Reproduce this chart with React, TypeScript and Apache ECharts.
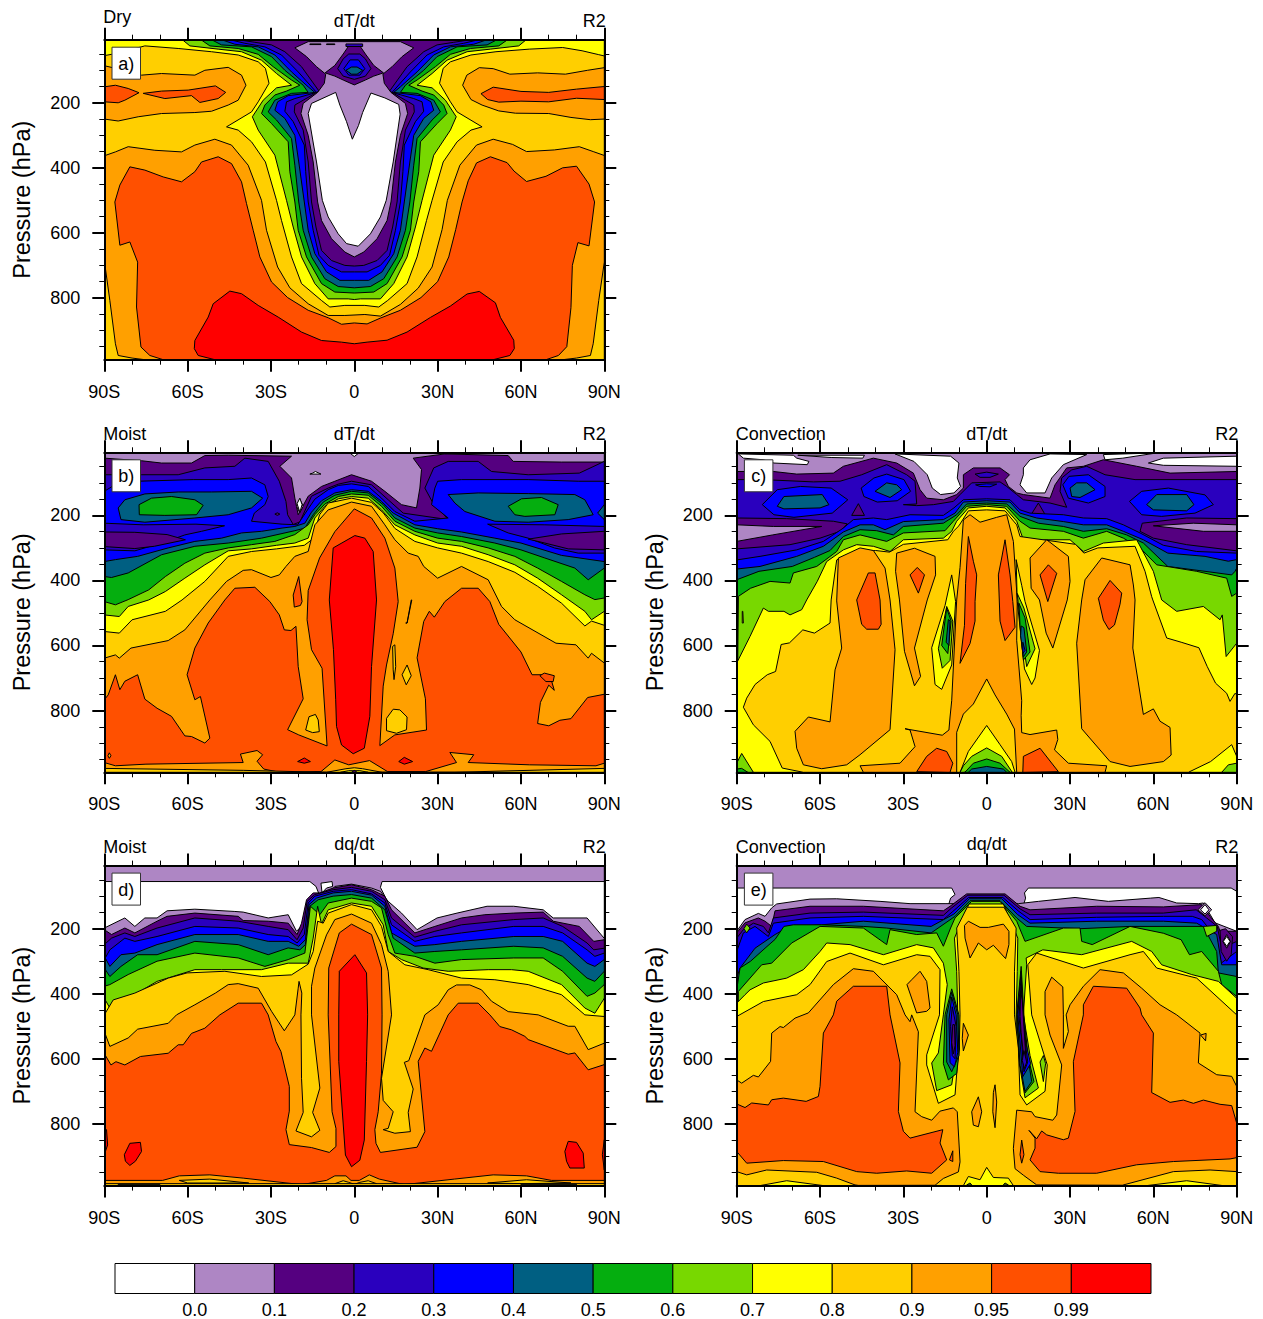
import React, { useEffect, useRef } from "react";
import * as echarts from "echarts";

// Shading levels, low to high
const levelColors = ["#ffffff", "#ae86c4", "#550080", "#2a00be", "#0000ff", "#005f82", "#05ae0f", "#78d800", "#ffff00", "#ffcf00", "#ffa000", "#ff5000", "#ff0000"];
const levelLabels = ["0.0", "0.1", "0.2", "0.3", "0.4", "0.5", "0.6", "0.7", "0.8", "0.9", "0.95", "0.99"];
const latLabels: Record<string, string> = { "-90": "90S", "-60": "60S", "-30": "30S", "0": "0", "30": "30N", "60": "60N", "90": "90N" };
const pressureMajor = [200, 400, 600, 800];
const pressureMinor = [50, 100, 150, 250, 300, 350, 450, 500, 550, 650, 700, 750, 850, 900, 950];
const pMin = 6;
const pMax = 990;

// Each contour: [level, [lat, hPa, lat, hPa, ...]], painted in order
type Contour = [number, number[]];

const panelA: Contour[] = [
  [9, [-90, 6, 90, 6, 90, 990, -90, 990]],
  [10, [-90, 86, -86, 94, -81.4, 115, -76.6, 115, -69.4, 110, -57.4, 115, -53.8, 100, -45.4, 91, -40.6, 115, -39, 146, -41.8, 192, -45.4, 207, -51.4, 226, -57.4, 230, -69.4, 233, -77.8, 243, -85, 256, -90, 250]],
  [10, [90, 92, 84, 100, 76, 112, 66, 108, 56, 112, 50, 95, 45, 92, 40.5, 115, 39, 146, 42, 190, 46, 207, 52, 225, 58, 232, 70, 233, 78, 245, 85, 252, 90, 250]],
  [11, [-90, 151, -86, 146, -81.4, 156, -77.5, 169, -82.6, 192, -85, 200, -90, 197]],
  [11, [-76, 171, -69.4, 164, -59.8, 161, -50, 148, -46.3, 168, -49, 187, -55.6, 199, -58.6, 178, -68.2, 187]],
  [11, [45.6, 172, 50, 152, 60, 165, 70, 168, 80, 158, 90, 150, 90, 190, 80, 186, 70, 197, 60, 195, 52, 198, 48, 190]],
  [10, [-90, 363, -86, 351, -81.4, 335, -71.8, 346, -62.2, 351, -57.4, 330, -50.2, 312, -44.2, 330, -38.2, 392, -33.4, 500, -31.6, 592, -27.6, 705, -23.2, 769, -16.6, 818, -9.4, 854, -3.4, 854, 3.8, 851, 9.4, 856, 16.6, 820, 23, 770, 28, 705, 31.6, 590, 33.5, 500, 38, 392, 44, 330, 50, 312, 57, 328, 62, 350, 72, 345, 81, 335, 86, 350, 90, 362, 90, 690, 88, 808, 86, 941, 85, 977, 80, 985, 75, 990, -75.4, 990, -80, 985, -85, 977, -86, 941, -88, 808, -90, 685]],
  [11, [-86.2, 505, -84.4, 453, -80.8, 397, -75.4, 407, -68.8, 428, -62.2, 443, -57.4, 412, -55, 382, -49, 366, -44.2, 387, -40.6, 443, -38.8, 510, -36.4, 592, -34, 674, -29.8, 751, -24, 799, -16.6, 838, -9.4, 861, -4.6, 881, 0, 877, 4.6, 880, 9.4, 862, 16.6, 838, 24, 799, 30, 750, 34, 674, 36.5, 590, 38.8, 505, 41, 440, 44, 385, 49, 366, 55, 384, 57.5, 410, 62, 442, 69, 426, 75, 400, 80, 395, 84.5, 450, 86.5, 505, 84.5, 640, 80.5, 630, 78.5, 700, 78, 830, 76.5, 950, 73.5, 977, 69, 990, -68.8, 990, -73.6, 977, -76.8, 951, -78.4, 828, -78, 690, -80.8, 628, -84.4, 638]],
  [12, [-50.2, 990, -56.2, 977, -57.6, 956, -57.4, 931, -52.6, 859, -50.8, 818, -44.8, 779, -40.6, 787, -34.6, 823, -27.4, 859, -19, 905, -11.8, 931, -4.6, 936, 0, 941, 4.6, 936, 11.8, 930, 19, 905, 27.4, 860, 34.6, 825, 40.6, 788, 45, 780, 50.8, 815, 52.6, 860, 57.4, 930, 57.6, 956, 56, 977, 50, 990]],
  [8, [-90, 55, -87.4, 51, -81, 38, -75.4, 25, -63.4, 33, -51.4, 43, -41.8, 53, -34.6, 74, -32, 94, -30.7, 140, -34.6, 197, -37, 228, -46, 274, -41.8, 284, -37, 320, -32, 382, -28, 500, -26.2, 562, -22.6, 674, -19, 756, -11.8, 808, -8.8, 828, -3.4, 823, 3.8, 823, 8.8, 828, 12, 808, 19, 756, 22.6, 674, 26, 562, 28, 500, 32, 382, 37, 320, 42, 284, 46, 274, 37, 228, 34.6, 197, 30.7, 140, 32, 94, 34.6, 74, 42, 53, 51, 43, 63, 35, 75, 30, 82, 40, 88, 52, 90, 56, 90, 6, -90, 6]],
  [7, [-61.9, 6, -59.2, 25, -49, 35, -40.6, 43, -33.4, 69, -28, 110, -22.6, 146, -28, 154, -32.8, 192, -36.7, 243, -34.6, 284, -28.6, 361, -24.4, 500, -22, 582, -19, 674, -14.2, 756, -9.4, 803, -2.2, 803, 0, 805, 2.2, 803, 9.4, 803, 14.2, 756, 19, 674, 22, 582, 24.4, 500, 28.6, 361, 34.6, 284, 36.7, 243, 32.8, 192, 28, 154, 22.6, 146, 28, 110, 33.4, 69, 40.6, 43, 49, 35, 59.2, 25, 61.9, 6]],
  [6, [-55.2, 6, -52, 25, -41.8, 33, -34.6, 51, -29.2, 89, -22.6, 130, -19.6, 146, -24.4, 164, -28.6, 176, -32.2, 207, -33.4, 233, -29.8, 264, -23.8, 320, -23.2, 412, -21.4, 505, -20.2, 592, -17.2, 674, -11.8, 756, -7, 782, 0, 785, 7, 782, 11.8, 756, 17.2, 674, 20.2, 592, 21.4, 505, 23.2, 412, 23.8, 320, 29.8, 264, 33.4, 233, 32.2, 207, 28.6, 176, 24.4, 164, 19.6, 146, 22.6, 130, 29.2, 89, 34.6, 51, 41.8, 33, 52, 25, 55.2, 6]],
  [5, [-51.4, 6, -47.8, 22, -37, 28, -29.8, 58, -25, 100, -18.4, 146, -16.6, 168, -22.6, 171, -28.6, 192, -31, 228, -28, 253, -22.6, 310, -21.4, 392, -20, 505, -18.4, 592, -15.4, 674, -10.6, 741, -5.8, 765, 0, 769, 5.8, 765, 10.6, 741, 15.4, 674, 18.4, 592, 20, 505, 21.4, 392, 22.6, 310, 28, 253, 31, 228, 28.6, 192, 22.6, 171, 16.6, 168, 18.4, 146, 25, 100, 29.8, 58, 37, 28, 47.8, 22, 51.4, 6]],
  [4, [-47.8, 6, -43, 20, -34.6, 28, -28.6, 53, -22.6, 105, -16.6, 151, -14.2, 168, -23.8, 178, -27.6, 197, -28.6, 223, -25, 248, -21.4, 300, -20, 382, -18, 505, -16.6, 592, -14.2, 664, -10, 720, -5.2, 746, 0, 746, 5.2, 746, 10, 720, 14.2, 664, 16.6, 592, 18, 505, 20, 382, 21.4, 300, 25, 248, 28.6, 223, 27.6, 197, 23.8, 178, 14.2, 168, 16.6, 151, 22.6, 105, 28.6, 53, 34.6, 28, 43, 20, 47.8, 6]],
  [3, [-44.8, 6, -39.4, 17, -32.2, 28, -26.2, 53, -20.2, 105, -13.6, 168, -21.4, 187, -24.4, 197, -25, 226, -22, 258, -18, 330, -17.5, 412, -16.6, 505, -14.8, 592, -12.7, 669, -9.4, 700, -4.6, 720, 0, 720, 4.6, 720, 9.4, 700, 12.7, 669, 14.8, 592, 16.6, 505, 17.5, 412, 18, 330, 22, 258, 25, 226, 24.4, 197, 21.4, 187, 13.6, 168, 20.2, 105, 26.2, 53, 32.2, 28, 39.4, 17, 44.8, 6]],
  [2, [-41.8, 6, -35.8, 14, -29.8, 22, -25, 43, -19, 89, -12.7, 164, -18.4, 192, -21.4, 207, -21.6, 228, -18.4, 284, -16.6, 382, -15.4, 505, -13.8, 582, -11.8, 654, -8.2, 685, -3.4, 700, 0, 702, 3.4, 700, 8.2, 685, 11.8, 654, 13.8, 582, 15.4, 505, 16.6, 382, 18.4, 284, 21.6, 228, 21.4, 207, 18.4, 192, 12.7, 164, 19, 89, 25, 43, 29.8, 22, 35.8, 14, 41.8, 6]],
  [1, [-21.4, 31, -16.6, 12, 16.6, 12, 21.4, 31, 17.2, 58, 13.6, 89, 10.3, 112, 10.8, 140, 13.2, 168, 18.4, 202, 19.2, 233, 16.6, 300, 14.8, 382, 13.2, 505, 11.8, 562, 8.2, 618, 3.4, 659, 0, 674, -3.4, 659, -8.2, 618, -11.8, 562, -13.2, 505, -14.8, 382, -16.6, 300, -19.2, 233, -18.4, 202, -13.2, 168, -10.8, 140, -10.3, 112, -13.6, 89, -17.2, 58]],
  [2, [-16, 19, -12, 19, -12, 21, -16, 21]],
  [2, [-10, 19, -7, 19, -7, 21, -10, 21]],
  [2, [-10.5, 108, -7, 85, -4, 50, -2, 25, 2, 25, 4, 50, 7, 85, 10.5, 108, 7, 118, 4, 130, 0, 145, -4, 130, -7, 118]],
  [3, [-6, 95, -4, 65, -2, 50, 2, 50, 4, 65, 6, 95, 4, 118, 0, 128, -4, 118]],
  [3, [-3, 19, 3, 19, 3, 27, -3, 27]],
  [4, [-3.8, 95, -1.5, 68, 1.5, 68, 3.8, 95, 2, 115, -2, 115]],
  [5, [-3, 100, -1, 90, 1, 90, 3, 100, 1, 112, -1, 112]],
  [0, [-16.6, 233, -15.4, 202, -6.7, 168, -5.2, 207, -2.8, 258, -0.7, 312, 1.5, 270, 3, 230, 6, 170, 11, 185, 16, 205, 16.5, 235, 14, 382, 11.5, 500, 9.4, 551, 5.8, 603, 1.4, 641, -2.8, 633, -5.8, 603, -9.4, 551, -11.5, 500, -13.6, 382]],
];

const panelB: Contour[] = [
  [1, [-90, 6, 90, 6, 90, 990, -90, 990]],
  [2, [-90, 24, -76.6, 32, -69.4, 39, -58.6, 39, -53.8, 16, -45.4, 15, -22.6, 18, -26.8, 49, -22.6, 85, -21.4, 147, -20.2, 198, -16.6, 141, -11.8, 111, -7, 95, -1, 75, 6.2, 95, 11, 126, 17, 167, 22.4, 177, 23.6, 116, 24.2, 59, 21.2, 24, 32.6, 11, 55.4, 16, 57.2, 34, 74.6, 36, 90, 36, 90, 990, -90, 990]],
  [3, [-90, 75, -76.6, 75, -63.4, 75, -53.8, 54, -43, 49, -39.4, 24, -31, 34, -27, 95, -24.6, 157, -24, 198, -22, 228, -19.6, 220, -15.4, 141, -9.4, 116, -5.8, 104, -1, 95, 6.2, 106, 12.2, 152, 17.6, 193, 33.8, 213, 28, 157, 25.4, 116, 28.6, 54, 33.8, 34, 44.6, 34, 49.4, 65, 62.6, 75, 81, 70, 90, 34, 90, 990, -90, 990]],
  [2, [-28.6, 196, -27.7, 192, -26.8, 196, -27.7, 200]],
  [4, [-90, 126, -86, 105, -78, 95, -58, 90, -45.4, 90, -37, 85, -32.2, 106, -31, 142, -32.2, 167, -36, 193, -37, 218, -26, 227, -20.4, 229, -16.6, 180, -14.2, 150, -9.4, 121, -5.8, 108, -1, 103, 5, 111, 9.8, 147, 14.6, 188, 21.8, 218, 33.8, 208, 27.8, 167, 29, 116, 30, 95, 38.6, 90, 62.6, 90, 80.6, 95, 90, 95, 90, 990, -90, 990]],
  [3, [-90, 224, -76, 229, -57, 227, -46.7, 232, -55, 249, -61, 260, -67.4, 280, -79, 309, -90, 306]],
  [2, [-90, 251, -79, 252, -67.4, 259, -60.8, 275, -72, 295, -79, 302, -90, 296]],
  [3, [48, 227, 68.6, 229, 90, 234, 90, 316, 80.6, 316, 72, 300, 62.6, 270, 55.4, 254]],
  [2, [62.6, 273, 74.6, 257, 90, 249, 90, 306, 77, 303, 68.6, 285]],
  [5, [-85, 177, -82.6, 152, -75.4, 134, -63.4, 128, -51.4, 128, -37, 126, -33, 147, -37, 177, -45.4, 198, -57.4, 208, -75.4, 221, -84, 213]],
  [6, [-77.5, 167, -73, 147, -65.8, 142, -57.4, 152, -54.4, 169, -56.8, 198, -68.2, 200, -77.4, 198]],
  [5, [33.8, 136, 44.6, 131, 62.6, 133, 79.4, 136, 83, 152, 86, 198, 77, 213, 62.6, 221, 50.6, 218, 39.8, 188, 36.2, 162]],
  [6, [55.4, 172, 60.2, 149, 67.4, 145, 73.4, 167, 72.2, 198, 61.4, 203, 57.8, 198]],
  [5, [90, 167, 87.6, 193, 90, 213]],
  [1, [-20.8, 172, -19.6, 150, -18.4, 172, -19.6, 192]],
  [0, [-20.6, 164, -19.6, 147, -18.8, 167, -19.6, 190]],
  [0, [-15, 70, -14, 65, -12, 73, -16, 73]],
  [0, [-1.5, 9, 1.5, 9, 0, 19]],
  [5, [-90, 342, -86, 336, -78, 326, -67, 300, -57.4, 280, -47.8, 270, -40.6, 254, -33.4, 249, -26, 239, -21.4, 234, -17.8, 224, -15.4, 190, -11.8, 155, -7, 131, -1, 121, 5, 126, 9.8, 157, 14, 193, 21.8, 229, 30, 241, 38.6, 251, 50.6, 270, 60, 285, 74.6, 323, 90, 342, 90, 990, -90, 990]],
  [6, [-90, 388, -87.4, 391, -81.4, 377, -69.4, 321, -57.4, 295, -45.4, 285, -33.4, 270, -21.4, 247, -17.8, 239, -14.8, 198, -11.2, 159, -7, 138, -1, 126, 5, 131, 10.4, 167, 14.6, 208, 21.8, 239, 30, 254, 38.6, 265, 50.6, 285, 60, 306, 68.6, 331, 79.4, 362, 84.2, 398, 90, 362, 90, 990, -90, 990]],
  [7, [-90, 465, -86, 475, -81.4, 459, -74, 429, -68, 388, -61, 347, -53.8, 316, -45.4, 300, -37, 290, -28.6, 280, -21.4, 259, -16.6, 229, -14.2, 198, -10.6, 165, -5.8, 142, -1, 134, 5, 138, 9.8, 172, 14.6, 218, 21.8, 249, 30, 270, 38.6, 280, 48.2, 300, 57.8, 326, 66, 362, 74.6, 403, 83, 444, 86.6, 459, 90, 454, 90, 990, -90, 990]],
  [8, [-90, 506, -84.6, 511, -81.4, 480, -74, 460, -68, 434, -61, 393, -53.8, 352, -45.4, 309, -37, 303, -28, 292, -21.4, 285, -16.6, 270, -14.2, 208, -10.6, 172, -5.8, 149, -1, 142, 5, 147, 9.8, 183, 14.6, 229, 21.8, 260, 30, 285, 38.6, 295, 48.2, 321, 57.8, 352, 66, 393, 74.6, 444, 83, 495, 85.4, 521, 90, 495, 90, 990, -90, 990]],
  [9, [-90, 557, -84.6, 562, -80, 521, -68, 495, -62, 460, -53.8, 403, -45.4, 326, -37, 311, -28, 303, -18, 292, -15, 273, -12.5, 198, -9.4, 162, -1, 147, 6.2, 160, 10.4, 192, 14.6, 240, 21.8, 280, 30, 300, 38.6, 316, 48.2, 342, 57.8, 375, 66, 418, 74.6, 470, 83, 540, 85.4, 525, 90, 538, 90, 990, -90, 990]],
  [10, [-90, 639, -86, 629, -84.6, 639, -80.4, 608, -67, 585, -61, 552, -52, 460, -46, 403, -40, 369, -37, 367, -30, 391, -27, 383, -24.6, 357, -21.4, 326, -16.6, 311, -14.2, 229, -9.4, 183, -1, 159, 6.2, 172, 11, 229, 14.6, 275, 19.4, 316, 23, 326, 25, 357, 30, 393, 38.6, 357, 48.2, 398, 53, 480, 57.8, 521, 72.6, 593, 79.8, 598, 84.2, 639, 85.4, 624, 90, 654, 90, 990, -90, 990]],
  [11, [-90, 767, -88.6, 752, -86, 690, -84.4, 736, -82.6, 710, -78, 690, -75.4, 765, -71, 793, -65.8, 818, -61, 878, -58.6, 880, -53.8, 900, -52, 885, -55.4, 757, -57.4, 767, -60.2, 690, -57.4, 608, -52.6, 531, -46.6, 460, -43, 424, -35.8, 421, -30.4, 465, -27, 506, -25.2, 552, -22.8, 554, -21, 541, -20.2, 665, -18.4, 764, -24, 859, -20, 875, -9.8, 909, -11.6, 670, -15.4, 613, -17, 521, -16.6, 431, -12.5, 331, -7, 250, 0, 180, 6.2, 208, 11, 270, 14.6, 362, 15.8, 465, 14, 564, 11.6, 660, 10.4, 725, 9.2, 908, 14.6, 875, 26, 860, 25.6, 764, 22.6, 638, 25, 526, 27, 495, 28.8, 513, 32.6, 465, 38.6, 424, 44.6, 424, 48.8, 465, 52, 535, 60, 620, 64, 690, 68.6, 690, 70.6, 697, 72, 738, 70, 722, 67, 775, 66, 840, 70, 847, 74, 830, 78, 825, 84, 760, 90, 750, 90, 770, 90, 990, -90, 990]],
  [10, [-90, 960, -86, 970, -75, 965, -40, 960, -41, 934, -35, 923, -33, 936, -35, 956, -32.6, 980, -28, 988, -12, 988, -7, 952, -2, 967, 5.5, 954, 12, 988, 25.6, 988, 36.8, 960, 34.4, 929, 43, 936, 41, 960, 63, 967, 87, 970, 90, 962, 90, 990, -90, 990]],
  [9, [-90, 978, -40, 984, -10, 990, -3, 979, 0, 976, 3, 979, 10, 990, 36, 990, 90, 978, 90, 990, -90, 990]],
  [8, [-5, 990, -2, 985, 2, 985, 5, 990]],
  [2, [-1, 990, 0, 984, 1, 990]],
  [12, [-7.6, 300, -9, 460, -7.5, 613, -6.7, 767, -6.4, 849, -4.6, 906, -0.4, 933, 3.6, 916, 5.6, 818, 6.2, 665, 8, 460, 6.8, 311, 3.8, 270, 0.2, 262]],
  [11, [-20, 388, -18.8, 465, -19.4, 477, -21.6, 482, -22, 445]],
  [9, [-17.5, 860, -16.3, 819, -14, 812, -13, 829, -12.6, 865, -15, 868]],
  [9, [11.6, 824, 14, 796, 16.4, 798, 19, 820, 18.8, 859, 15.2, 870, 11.6, 862]],
  [9, [13.8, 603, 14.6, 598, 14.9, 665, 14.3, 705, 14, 675]],
  [9, [19, 660, 20.5, 693, 18.7, 721, 17.2, 690]],
  [9, [18.5, 531, 19, 531, 20.5, 460, 20.7, 460, 19, 531]],
  [11, [66.8, 693, 68.4, 685, 72, 693, 71.6, 711, 69, 711]],
  [12, [-20.4, 957, -18, 946, -15.8, 957, -18, 962]],
  [12, [16, 957, 18, 944, 21, 957, 18, 965]],
  [10, [-88.2, 930, -87.6, 939, -88.2, 947, -88.7, 939]],
];

const panelC: Contour[] = [
  [1, [-90, 6, 90, 6, 90, 990, -90, 990]],
  [0, [-89.4, 11, -69.6, 15, -68.4, 24, -64, 34, -64.6, 44, -76.6, 39, -80.4, 29, -87.6, 24]],
  [0, [-68, 15, -44, 15, -44.6, 24, -56, 22]],
  [0, [-33, 11, -13, 18, -10, 39, -10.6, 85, -9.4, 111, -11.8, 131, -16.6, 136, -19.6, 116, -21.4, 75, -26.2, 34]],
  [0, [13.2, 54, 15.6, 29, 22.8, 11, 36, 13, 27.6, 44, 23.4, 85, 21, 131, 14.4, 131, 12, 106, 13.2, 75]],
  [0, [42, 13, 61.2, 8, 49, 24, 42.6, 29]],
  [0, [58.2, 39, 63.6, 24, 90, 18, 90, 49, 63.6, 46]],
  [2, [-90, 65, -76.8, 65, -68.4, 73, -55.2, 70, -51.6, 49, -40.8, 24, -32.4, 39, -26.4, 70, -24, 121, -21.6, 147, -15.6, 152, -10.8, 136, -8.4, 116, -8.4, 75, -4.8, 54, 4.8, 54, 8.2, 75, 6.6, 90, 7.8, 111, 10.8, 131, 13.2, 136, 22.8, 147, 24.6, 106, 28.8, 54, 34.8, 49, 42, 29, 54, 49, 66, 70, 90, 65, 90, 990, -90, 990]],
  [3, [-90, 90, -80.4, 90, -62.4, 97, -52.8, 95, -45, 75, -36, 44, -28.8, 75, -25.8, 95, -25.2, 165, -30, 167, -25.2, 170, -19.2, 167, -12, 157, -9.6, 136, -5.4, 100, 4.8, 97, 7.2, 111, 10.8, 136, 13.2, 152, 22.8, 162, 28.8, 175, 26.4, 126, 27, 85, 30.6, 60, 36, 49, 42.6, 75, 53.4, 90, 90, 90, 90, 990, -90, 990]],
  [3, [-4.2, 73, 0, 67, 4.2, 73, 1.2, 83, -2.4, 83]],
  [4, [-4, 106, 0, 103, 3.6, 104, 1.2, 112, -2.4, 111]],
  [4, [-80.8, 167, -75.4, 121, -67, 111, -56, 116, -50, 152, -55.6, 193, -69.4, 206, -76.6, 198]],
  [4, [-45.2, 116, -40.6, 85, -36, 73, -29.8, 90, -27.4, 126, -32.2, 155, -39.4, 159, -44.2, 142]],
  [4, [27.4, 106, 29.6, 80, 36.6, 75, 42.6, 111, 42.6, 142, 36.6, 162, 29.4, 147]],
  [4, [51.4, 157, 55.8, 126, 65.4, 116, 78.6, 137, 81.6, 167, 75, 193, 63, 203, 55.8, 198]],
  [5, [-75.4, 172, -73, 142, -59.2, 136, -56.8, 167, -60, 177, -73, 180]],
  [5, [-40.2, 126, -36, 100, -32.4, 106, -30.6, 121, -34.8, 145]],
  [5, [30, 116, 32.4, 100, 36, 100, 39, 121, 33.6, 145, 30.6, 142]],
  [5, [57.6, 167, 61.2, 136, 72, 136, 74.6, 167, 72, 186, 60, 183]],
  [2, [-48.6, 200, -46.2, 164, -44, 200]],
  [2, [15.6, 203, 18.6, 162, 21.4, 203]],
  [2, [-90, 208, -72, 210, -55.2, 218, -50.2, 226, -52.8, 249, -60, 270, -70.8, 290, -90, 303]],
  [2, [56, 224, 72, 208, 90, 210, 90, 309, 72, 290, 60, 270, 55.2, 249]],
  [1, [-90, 229, -76.8, 234, -59.4, 234, -77, 260, -90, 280]],
  [1, [60, 232, 74.4, 224, 90, 229, 90, 249, 78, 249]],
  [4, [-90, 337, -81.6, 326, -68.4, 306, -58.8, 280, -51.6, 239, -48, 213, -40.8, 208, -36, 213, -27.6, 198, -15.6, 200, -11.8, 177, -8.4, 152, 0, 149, 8.4, 152, 12, 183, 15.6, 193, 27.6, 198, 34.8, 208, 43.2, 210, 49.2, 229, 55.2, 254, 63.6, 292, 75.6, 311, 90, 316, 90, 990, -90, 990]],
  [5, [-90, 365, -81.6, 357, -68.4, 326, -58.8, 295, -51.6, 251, -45.6, 229, -40.8, 229, -36.6, 244, -30, 219, -15.6, 213, -11.4, 193, -8.4, 159, 0, 155, 8.4, 159, 12, 193, 18, 208, 27.6, 219, 34.8, 229, 43.2, 229, 49.2, 249, 56.4, 275, 65.2, 316, 78.6, 326, 87, 341, 90, 336, 90, 990, -90, 990]],
  [6, [-90, 398, -82, 372, -70, 357, -62, 329, -56.4, 308, -51.6, 265, -45.6, 244, -39.6, 247, -33.6, 260, -30, 234, -15.6, 224, -10.8, 198, -7.2, 165, 0, 162, 7.2, 165, 12, 203, 18.6, 224, 27.6, 234, 34.8, 249, 43.2, 241, 50.4, 260, 56.4, 285, 65.2, 357, 78.6, 372, 88.2, 383, 89.4, 372, 90, 362, 90, 990, -90, 990]],
  [7, [-89.4, 449, -85, 424, -78, 403, -70.8, 408, -69.6, 377, -61.2, 357, -54, 311, -51.6, 275, -45.6, 260, -36, 280, -30, 254, -15, 247, -12, 218, -7.2, 172, 0, 167, 7.2, 172, 12, 218, 15.6, 239, 27.6, 249, 34.8, 270, 43.2, 249, 49.2, 270, 55.2, 300, 61.2, 352, 75.6, 372, 86.4, 393, 88.2, 449, 90, 439, 90, 990, -90, 990]],
  [8, [-90, 654, -85.2, 572, -80.4, 485, -78.6, 495, -73, 495, -70.8, 506, -66.6, 490, -64.8, 460, -61, 403, -57.6, 342, -51.6, 306, -46.8, 290, -40.8, 295, -34.8, 311, -30, 275, -15.6, 270, -12.6, 249, -10.8, 218, -6.6, 177, 0, 172, 6.6, 177, 10.8, 218, 13.2, 275, 30, 275, 34.8, 311, 42, 285, 54, 275, 60, 372, 63, 460, 68.4, 495, 78, 480, 84, 521, 84.8, 506, 86.2, 634, 90, 593, 90, 990, -90, 990]],
  [8, [-88, 495, -87.8, 495, -87.6, 531, -88, 531]],
  [9, [-66, 990, -73.6, 977, -78, 895, -84, 844, -87.6, 790, -86.4, 762, -83.4, 720, -79, 690, -76, 680, -74, 597, -71, 592, -66.2, 552, -62, 562, -56.4, 531, -56, 460, -54, 337, -47, 311, -40, 308, -35, 313, -30, 289, -14, 275, -12, 249, -10, 232, -6.6, 186, 0, 183, 6.6, 186, 10.8, 229, 12, 265, 32, 289, 35, 316, 40, 300, 53.4, 295, 57, 372, 59.4, 450, 59.8, 460, 64.8, 577, 70, 590, 76.4, 607, 79.4, 665, 82.4, 716, 86.4, 747, 87.6, 772, 89.4, 747, 90, 752, 90, 941, 88.2, 905, 80.6, 957, 72.6, 990]],
  [7, [-90, 962, -88.2, 932, -84, 990, -90, 990]],
  [6, [-90, 980, -88.2, 978, -86, 990, -90, 990]],
  [7, [87, 967, 90, 962, 90, 990, 84.6, 990]],
  [10, [-54, 463, -53.4, 331, -45.6, 300, -40.8, 308, -36.6, 362, -34.8, 460, -33, 613, -34.8, 859, -45.6, 936, -50.4, 967, -59.4, 979, -66, 967, -68.4, 916, -69, 864, -64.2, 820, -56.4, 835, -54.6, 675, -52.2, 608]],
  [11, [-46.8, 460, -42.6, 377, -40.2, 377, -38.4, 460, -38, 535, -39, 550, -43.2, 550, -45, 535]],
  [10, [-32.4, 316, -26, 301, -18.6, 326, -18.4, 383, -21.4, 460, -26, 608, -23.8, 695, -26, 724, -29.6, 618, -31.4, 460, -32.8, 372]],
  [11, [-27.6, 383, -25, 360, -22.4, 383, -24.6, 439]],
  [10, [15.6, 331, 21.6, 275, 29.4, 326, 30, 403, 29, 460, 23.8, 608, 21.4, 562, 19, 460, 16, 424]],
  [11, [19.2, 383, 22.2, 352, 25.2, 378, 22, 465]],
  [10, [35.4, 398, 41.4, 331, 51.6, 352, 52.8, 414, 53.4, 460, 52.6, 608, 56.4, 812, 60, 795, 62.4, 833, 66, 852, 66.4, 937, 63.6, 957, 51.6, 972, 44.4, 957, 34.2, 856, 32.4, 593, 34.2, 460]],
  [11, [40.2, 455, 44.4, 400, 48.6, 439, 48, 473, 46, 537, 44, 551, 42, 522]],
  [10, [-8.4, 214, -6, 198, -2.4, 221, 3.6, 206, 7.2, 198, 9.6, 280, 11, 460, 10.8, 584, 12.6, 770, 12.4, 816, 12.6, 868, 15.6, 874, 25.2, 860, 25.6, 889, 24.4, 921, 29.4, 962, 43.2, 970, 42.6, 990, -44.4, 990, -45.6, 970, -31.2, 962, -25.8, 911, -27.6, 860, -29.4, 856, -16, 876, -13.6, 860, -13.2, 820, -12.6, 770, -10.8, 460, -9.6, 360]],
  [9, [-10.8, 990, -10.8, 867, -8.4, 811, -4.8, 780, 0, 703, 3, 752, 7.2, 811, 10, 857, 10.8, 990]],
  [8, [-9.6, 990, -6.6, 926, 0, 846, 4.8, 905, 9, 957, 10.2, 990]],
  [7, [-8.4, 970, -5.4, 941, 0, 915, 5.4, 941, 9.2, 990, -9.6, 990]],
  [6, [-7.4, 986, -4.8, 962, 0, 949, 4.8, 962, 8.4, 990, -8, 990]],
  [5, [-6.6, 990, -5.4, 980, 0, 972, 6, 980, 7.2, 990]],
  [11, [-25.2, 988, -21.6, 941, -18, 916, -14.4, 926, -12.2, 962, -13.2, 990]],
  [11, [13, 990, 13.2, 941, 19.2, 916, 25.8, 988]],
  [11, [-6.6, 265, -4.8, 341, -3.6, 383, -4.2, 465, -4.2, 525, -6, 594, -9.6, 655, -8, 538, -7.6, 410]],
  [11, [6.6, 275, 5.4, 331, 4.2, 383, 4.8, 525, 6.6, 585, 10.2, 544, 9.4, 465, 8.4, 383]],
  [8, [-12.6, 383, -15, 477, -19.8, 607, -18.6, 720, -16.2, 735, -12.6, 660, -11.2, 465]],
  [7, [-14.4, 480, -17.4, 610, -16, 670, -13.2, 646, -12.2, 525]],
  [6, [-14.4, 485, -16.2, 600, -14, 625, -12.8, 525]],
  [5, [-13.8, 520, -14.6, 590, -13.6, 600, -13.2, 525]],
  [8, [10.6, 336, 12.6, 415, 13.8, 465, 19, 615, 17.4, 700, 16.2, 720, 13.6, 672, 11, 465]],
  [7, [11, 440, 13.4, 485, 17.4, 610, 14.4, 665, 12, 525]],
  [6, [11.6, 470, 13.8, 515, 15.6, 620, 13.2, 645, 12, 540]],
  [5, [12.4, 540, 13.4, 545, 14.4, 620, 13.2, 635, 12.2, 570]],
  [4, [13, 590, 13.8, 615, 13, 625]],
];

const panelD: Contour[] = [
  [0, [-90, 6, 90, 6, 90, 990, -90, 990]],
  [1, [-90, 6, 90, 6, 90, 55, 10, 55, 9.4, 73, 11, 100, 11, 160, -14, 160, -12.4, 100, -13.8, 70, -16, 55, -90, 55]],
  [0, [-12, 60, -8, 55, -7.8, 70, -10, 75, -11.6, 90]],
  [1, [-90, 198, -82.6, 167, -79, 193, -75.4, 167, -71, 167, -67.4, 145, -57.4, 140, -43, 147, -40, 149, -31, 167, -23.8, 157, -20.8, 208, -17.6, 180, -15, 150, -12.4, 100, -10, 100, -7, 70, -1, 63, 6.2, 75, 9.4, 85, 12.2, 116, 17, 152, 22.6, 203, 29.8, 167, 37, 152, 47.8, 131, 57.4, 131, 68, 142, 71.6, 167, 83.8, 167, 90, 230, 90, 990, -90, 990]],
  [2, [-90, 203, -87.4, 218, -82.6, 198, -79, 213, -71, 177, -67.4, 162, -57.4, 152, -41.8, 162, -40, 175, -31, 177, -23.8, 183, -20.6, 218, -19, 183, -17.2, 111, -14.8, 90, -12.4, 90, -7.6, 75, -1, 65, 6.2, 80, 11, 100, 13.4, 142, 21.8, 213, 29, 193, 38.6, 167, 47, 157, 57.4, 152, 68, 149, 71.6, 177, 81, 193, 86.2, 239, 90, 234, 90, 990, -90, 990]],
  [3, [-90, 249, -87.4, 229, -82.6, 213, -79, 224, -71, 198, -57.4, 167, -41.8, 177, -31, 193, -23.8, 203, -20.6, 234, -18.4, 198, -17, 116, -14.2, 95, -7.6, 80, -1, 73, 6.2, 85, 11, 111, 13.4, 167, 21.8, 226, 29, 208, 38.6, 188, 57.4, 172, 68, 167, 75, 193, 83.8, 244, 86.2, 265, 90, 260, 90, 990, -90, 990]],
  [4, [-90, 295, -88, 265, -82.6, 229, -79, 239, -71, 224, -57.4, 193, -41.8, 198, -31, 218, -23.8, 224, -20.6, 244, -18, 218, -16.6, 121, -14.2, 100, -7.6, 85, -1, 80, 6.2, 93, 11, 121, 13.4, 188, 21.8, 239, 29, 224, 38.6, 213, 57.4, 193, 68, 193, 75, 213, 83.8, 265, 86.6, 285, 90, 275, 90, 990, -90, 990]],
  [5, [-90, 285, -88, 316, -84, 280, -79, 275, -71, 249, -57.4, 218, -41.8, 218, -31, 239, -23.8, 239, -20, 254, -17.6, 234, -16.3, 126, -13.6, 106, -7.6, 90, -1, 85, 6.2, 97, 11, 131, 13.4, 213, 21.8, 254, 29, 249, 38.6, 239, 57.4, 224, 68, 224, 75, 239, 83.8, 306, 86.6, 316, 90, 295, 90, 990, -90, 990]],
  [6, [-90, 321, -88, 347, -84, 316, -78, 280, -71, 280, -57.4, 239, -41.8, 249, -31, 280, -23.8, 259, -19.6, 265, -17.6, 249, -16, 131, -13, 111, -7.6, 100, -1, 95, 6.2, 106, 11, 142, 14, 229, 21.8, 275, 29, 270, 38.6, 265, 57.4, 254, 68, 259, 75, 285, 83.8, 352, 86.6, 362, 90, 331, 90, 990, -90, 990]],
  [7, [-90, 377, -88, 372, -81.4, 341, -71, 300, -57.4, 275, -41.8, 290, -32.2, 316, -23.8, 295, -17.8, 275, -15.8, 131, -12.4, 157, -9.4, 121, -1, 106, 6.2, 116, 9.8, 136, 12.2, 218, 14.6, 275, 21.8, 285, 29, 306, 38.6, 295, 57.4, 290, 68, 290, 75, 331, 83.8, 408, 86.6, 398, 90, 372, 90, 990, -90, 990]],
  [8, [-90, 414, -88, 444, -81.4, 414, -71, 362, -57.4, 326, -47.8, 326, -33.4, 326, -23.8, 306, -16.6, 306, -14.8, 229, -13.2, 131, -11.8, 186, -9.4, 142, -1, 121, 6.2, 131, 10.4, 188, 12.2, 270, 17, 295, 24.8, 321, 33.8, 331, 48.2, 326, 56.6, 326, 62.6, 331, 74.6, 372, 83, 444, 86.6, 460, 90, 414, 90, 990, -90, 990]],
  [9, [-90, 465, -86.8, 419, -79, 398, -67, 352, -60.2, 336, -46.6, 331, -33.4, 347, -22.6, 342, -16.6, 309, -14.8, 270, -13.2, 177, -11.2, 183, -9.4, 152, -1, 126, 6.2, 142, 9.8, 193, 12.2, 270, 18.2, 311, 26.6, 326, 38.6, 352, 50.6, 357, 62.6, 372, 74.6, 403, 83, 465, 90, 470, 90, 990, -90, 990]],
  [10, [-90, 516, -88, 562, -81.4, 536, -78, 509, -67, 491, -64, 465, -57.4, 434, -50, 398, -45.4, 372, -41.8, 369, -34.6, 383, -29.8, 454, -25.2, 514, -21.4, 465, -20.2, 383, -19.9, 362, -18.9, 398, -19.2, 465, -19, 660, -18.4, 765, -21, 822, -15.4, 840, -12.4, 820, -15, 765, -12.4, 690, -15.4, 465, -15.4, 377, -14.2, 321, -10, 219, -7, 172, -1, 155, 6.2, 183, 9.8, 249, 12.2, 331, 13.4, 465, 9.8, 660, 10.4, 728, 14, 763, 12.2, 814, 10.4, 818, 14.6, 829, 20.2, 824, 19.4, 765, 21.2, 693, 18, 611, 19.6, 606, 25.4, 465, 30.2, 434, 33.8, 388, 36.8, 373, 41.6, 373, 45.8, 388, 49.4, 423, 55.4, 455, 66.2, 465, 77, 500, 79.4, 500, 84.2, 572, 90, 552, 90, 990, -90, 990]],
  [11, [-90, 584, -87.6, 619, -85.8, 609, -82.6, 619, -77, 593, -67, 583, -63.4, 557, -61.6, 557, -58.6, 522, -53.8, 506, -48.4, 465, -41.8, 429, -33.4, 429, -31, 465, -28.2, 547, -26.4, 578, -23.4, 685, -23.4, 761, -24.6, 818, -23.4, 864, -15.4, 873, -9, 888, -6.6, 870, -6.6, 814, -8, 763, -9.4, 465, -9.2, 321, -5.4, 213, -1, 186, 6.2, 218, 9.8, 321, 10, 465, 9.8, 644, 8.6, 763, 7.4, 818, 7.8, 860, 9.4, 888, 22.6, 872, 25.4, 824, 23, 608, 25.4, 567, 27.8, 577, 33.8, 465, 37.4, 429, 44.6, 429, 48.8, 465, 52.4, 501, 56.6, 511, 61.4, 531, 62.6, 541, 77, 586, 79.4, 582, 84.2, 634, 90, 618, 90, 990, -90, 990]],
  [10, [-90, 974, -69, 974, -63, 960, -52, 957, -40, 967, -19, 987, -10, 974, -7, 960, -3, 960, -1.2, 974, 1.8, 974, 5.4, 957, 9, 970, 18, 987, 36, 970, 50, 957, 62, 960, 71, 974, 90, 974, 90, 990, -90, 990]],
  [9, [-63, 974, -52, 970, -38, 982, -60, 982]],
  [9, [-7, 984, -4, 975, -2, 980, 0, 986, 2, 980, 5, 975, 8, 984, 6, 988, -6, 988]],
  [9, [48, 982, 62, 972, 78, 982, 60, 984]],
  [9, [-90, 984, 90, 984, 90, 990, -90, 990]],
  [8, [-85, 986, -70, 986, -70, 988, -85, 988]],
  [8, [60, 986, 80, 986, 80, 988, 60, 988]],
  [12, [-82.8, 895, -80.8, 860, -77, 857, -76.6, 885, -78.8, 915, -80.8, 928, -82.4, 915]],
  [12, [75.8, 885, 77, 854, 80, 857, 82.4, 890, 82.8, 936, 77.6, 936, 76.4, 915]],
  [12, [-90, 818, -89.2, 818, -88.8, 865, -90, 895]],
  [12, [90, 849, 89.3, 895, 90, 942]],
  [12, [-5.6, 465, -5.4, 331, 0.2, 280, 4.4, 336, 4.8, 465, 4.4, 608, 3.6, 850, 2, 912, -1, 932, -3.2, 896, -5.6, 608]],
];

const panelE: Contour[] = [
  [0, [-90, 6, 90, 6, 90, 990, -90, 990]],
  [1, [-90, 6, 90, 6, 90, 85, 88, 75, 15, 75, 13.6, 90, 14, 106, 13, 135, -14, 135, -13, 106, -11.4, 95, -12.6, 75, -90, 75]],
  [1, [-90, 208, -87, 172, -82.2, 153, -79.8, 162, -77.4, 136, -75.6, 124, -63.6, 109, -54, 108, -38.4, 116, -27.6, 123, -15, 123, 11.4, 123, 18.6, 116, 31.8, 104, 43.8, 116, 59, 106, 62, 104, 68.4, 121, 76.2, 123, 78, 121, 82.2, 182, 90, 208, 90, 990, -90, 990]],
  [2, [-90, 213, -87, 182, -82.2, 167, -79.8, 177, -77.4, 193, -76.2, 145, -63.6, 131, -44.4, 131, -15.6, 145, -13.2, 131, -7.2, 93, 6.6, 93, 12, 131, 15.6, 142, 39.6, 131, 63.6, 133, 77.4, 126, 80.4, 162, 83.4, 193, 84, 208, 90, 208, 90, 990, -90, 990]],
  [3, [-90, 229, -87.6, 203, -84, 183, -80.4, 193, -78.6, 213, -76.8, 167, -63.6, 152, -44.4, 149, -15.6, 159, -12.6, 136, -6.8, 97, 6.2, 97, 12, 139, 15.6, 157, 39.6, 152, 63.6, 152, 75.4, 142, 79.2, 167, 83, 193, 84.6, 260, 90, 239, 90, 990, -90, 990]],
  [4, [-90, 270, -87.6, 213, -83.4, 193, -78.6, 224, -76.8, 183, -63.6, 167, -44.4, 162, -15.6, 172, -12.2, 147, -6.5, 104, 5.8, 104, 11.6, 147, 15.6, 172, 39.6, 165, 63.6, 162, 74, 162, 77.4, 172, 82.8, 229, 84.4, 306, 90, 270, 90, 990, -90, 990]],
  [5, [-90, 352, -88.8, 321, -83.4, 260, -76.2, 218, -71, 193, -68, 193, -59.4, 188, -44.4, 177, -20, 193, -11.8, 155, -6.2, 108, 5.4, 108, 11.2, 157, 15.6, 183, 39.6, 177, 63.6, 177, 75.6, 183, 82.8, 218, 84.6, 311, 90, 311, 90, 990, -90, 990]],
  [6, [-90, 388, -88.8, 321, -85, 300, -79.8, 260, -76.2, 233, -73, 193, -69.6, 188, -59.4, 188, -44.4, 193, -36, 198, -20, 213, -11.4, 162, -6, 114, 4.8, 114, 10.8, 167, 14.4, 193, 27.6, 198, 33.6, 200, 51.6, 193, 78, 193, 82.8, 270, 83.4, 336, 90, 347, 90, 990, -90, 990]],
  [7, [-89.4, 393, -81, 311, -77.4, 306, -70.2, 244, -60, 193, -44.4, 198, -36, 249, -34.8, 203, -25.2, 218, -18, 213, -15.6, 254, -13, 198, -11.4, 167, -5.4, 116, 4.8, 116, 10.8, 177, 13.8, 239, 27.6, 198, 33.6, 198, 34.2, 239, 38, 249, 51.6, 193, 63.6, 214, 70, 234, 73, 280, 77.4, 270, 83.4, 331, 84.6, 372, 90, 408, 90, 990, -90, 990]],
  [8, [-90, 429, -87, 403, -85.2, 388, -80.4, 367, -72, 352, -66, 326, -60, 270, -57.6, 244, -49.2, 249, -37.2, 280, -25.2, 249, -19.2, 259, -15.6, 306, -14.2, 372, -15.6, 465, -17.4, 582, -19.8, 613, -18, 698, -12.6, 680, -10.6, 567, -10.4, 465, -10.8, 331, -11.6, 229, -6.4, 124, 6, 124, 11.2, 229, 11, 331, 10.6, 465, 10.8, 567, 13.8, 720, 18.6, 690, 15.6, 590, 13.2, 465, 14.4, 311, 14.2, 290, 20.2, 265, 34.2, 280, 52.2, 239, 59.4, 270, 63, 311, 73.8, 341, 83.4, 362, 90, 414, 90, 990, -90, 990]],
  [9, [-90, 470, -80.4, 424, -68.4, 403, -63.6, 372, -57.6, 301, -49.2, 275, -37.2, 311, -25.2, 280, -20.4, 285, -16.8, 326, -17, 465, -21.6, 588, -21.6, 619, -17.4, 737, -11.4, 711, -9.8, 536, -9.6, 465, -10, 331, -10.8, 198, -7, 134, 6.2, 134, 10.6, 198, 10, 331, 10, 465, 11.4, 567, 12, 711, 14.4, 742, 21, 700, 21.8, 619, 16.2, 465, 14.8, 311, 18, 275, 34.8, 321, 51.6, 280, 56.4, 270, 61.2, 321, 75.6, 352, 90, 465, 90, 990, -90, 990]],
  [10, [-90, 665, -88.2, 675, -84, 651, -82.2, 656, -77.8, 608, -77.4, 521, -74.4, 501, -73.2, 504, -69, 475, -64.2, 459, -55.2, 372, -48, 323, -40.8, 331, -32.4, 403, -29.4, 465, -27.6, 486, -27, 465, -24.6, 517, -25.8, 763, -23.4, 778, -19.8, 789, -16.8, 761, -12, 751, -10.6, 763, -9.6, 917, -10.2, 948, -15.6, 968, -18.6, 989, -90, 990]],
  [10, [21, 393, 23.4, 349, 27.4, 379, 27.6, 465, 27.6, 568, 29.4, 516, 28.6, 465, 30, 434, 34.8, 377, 40.8, 326, 49.2, 336, 55.8, 383, 62.4, 434, 68.4, 465, 76.8, 521, 76.2, 613, 82.8, 649, 88.2, 654, 90, 685, 90, 990, 18, 988, 13.2, 958, 10.2, 938, 9.6, 876, 10.8, 758, 16.2, 763, 17.4, 778, 23.8, 789, 25.2, 773, 27, 619, 22.8, 527, 21, 465]],
  [10, [-28.7, 372, -27, 357, -24, 331, -21.6, 362, -20.4, 444, -21.6, 454, -25.2, 459]],
  [11, [-90, 739, -87, 750, -84.6, 736, -78.6, 742, -77.4, 726, -73.2, 721, -65, 731, -60.6, 716, -60, 685, -58.8, 521, -55.2, 465, -54, 423, -48, 377, -36, 377, -34.8, 465, -31.2, 613, -31.8, 762, -30, 823, -27.6, 844, -15.8, 818, -16.8, 859, -14.4, 911, -19.8, 952, -28.8, 945, -39.6, 952, -46.8, 947, -58.8, 916, -73.2, 913, -86.4, 921, -90, 885]],
  [11, [34.8, 465, 31.2, 609, 31.8, 762, 29.4, 844, 27.6, 849, 21.6, 834, 19.8, 822, 18, 846, 15.2, 820, 17.4, 844, 17.4, 875, 15.6, 911, 19.2, 947, 25.8, 952, 39.6, 952, 54, 926, 67.2, 916, 87.6, 908, 90, 904, 90, 798, 88.2, 744, 84, 740, 78, 727, 74.4, 737, 70.8, 727, 66, 734, 59.4, 704, 60, 521, 55.8, 465, 55.2, 444, 50.4, 383, 38.4, 377, 34.8, 434]],
  [9, [-90, 947, -86.4, 957, -79.2, 942, -61.2, 949, -54, 967, -47.4, 988, -46, 990, -90, 990]],
  [9, [90, 947, 80.4, 942, 67.2, 947, 49.2, 988, 49, 990, 90, 990]],
  [8, [-81.6, 990, -72, 975, -58.8, 990]],
  [8, [57.6, 990, 72, 975, 85, 990]],
  [8, [-8.4, 990, -6.6, 962, -2.4, 972, 0, 934, 2.4, 965, 7.8, 967, 9.6, 990]],
  [7, [-7.2, 988, -6, 982, -5.4, 988]],
  [7, [6, 988, 6.6, 982, 7.8, 988]],
  [10, [-8, 190, -6.6, 177, -2.4, 196, 0.6, 196, 6, 186, 8, 208, 8, 249, 6.8, 292, 2.4, 251, 0, 265, -3, 244, -6, 290, -7.8, 229]],
  [10, [-5.4, 763, -3, 717, -1.8, 763, -3, 809, -4.8, 804]],
  [10, [3, 680, 3.6, 733, 3, 812, 2.2, 763, 2.4, 704]],
  [10, [-8.4, 491, -6.6, 527, -8.4, 576, -8.8, 537]],
  [6, [-12.6, 385, -15, 465, -15.6, 615, -13.8, 665, -10.8, 645, -9.8, 570, -10, 465]],
  [5, [-12.6, 395, -14.4, 465, -14.4, 610, -12.6, 640, -10, 590, -10.4, 465]],
  [4, [-12.6, 410, -13.6, 480, -13.2, 612, -11.6, 625, -10.4, 580, -11, 465]],
  [3, [-12.4, 440, -13, 500, -12.4, 590, -11.4, 600, -11, 500]],
  [2, [-12.2, 495, -12.6, 550, -12, 585, -11.4, 560, -11.6, 495]],
  [6, [12.4, 316, 10.8, 465, 11.6, 590, 13.8, 705, 17, 670, 14.8, 590, 13.4, 465]],
  [5, [12.4, 330, 11, 465, 12, 620, 13.8, 700, 16.2, 670, 14.4, 570, 13, 465]],
  [4, [12.4, 350, 11.2, 465, 13, 655, 15.8, 615, 13.8, 540, 12.9, 465]],
  [3, [12.4, 380, 11.6, 470, 12.4, 530, 13.4, 640, 14.8, 610, 13.4, 520, 12.8, 440]],
  [2, [12.2, 390, 12, 470, 12.4, 520, 13.4, 600, 14.2, 610, 13.4, 500, 12.8, 420]],
  [3, [13.4, 575, 14.4, 610, 13.6, 630, 12.8, 605]],
  [11, [12.6, 850, 13.4, 895, 12.6, 921, 12, 895]],
  [11, [-13.4, 911, -12.2, 883, -12.2, 916]],
  [7, [19.2, 610, 20.4, 590, 21.2, 615, 20.4, 670]],
  [10, [77, 527, 79, 522, 78.8, 545]],
  [7, [78, 193, 82.8, 190, 82.8, 208, 79.2, 224]],
  [7, [-87.4, 200, -86.4, 186, -85.2, 198, -86.4, 213]],
  [1, [76, 142, 78.6, 120, 81, 142, 78.6, 160]],
  [0, [77, 142, 78.6, 126, 80, 142, 78.6, 155]],
  [2, [84, 205, 86, 200, 88.5, 225, 88, 280, 86.4, 300, 84.4, 270]],
  [1, [85, 239, 86.4, 218, 87.8, 239, 86.4, 260]],
  [0, [85.2, 239, 86.4, 224, 87.6, 239, 86.4, 254]],
];

// Layout of the drawing (separate from the data)
const PANEL_W = 500;
const PANEL_H = 320;
const panels = [
  { data: panelA, left: 104.3, top: 39.7, title: ["Dry", "dT/dt", "R2"], titleY: [17, 21, 21], tag: "a)" },
  { data: panelB, left: 104.3, top: 452.3, title: ["Moist", "dT/dt", "R2"], titleY: [434, 434, 434], tag: "b)" },
  { data: panelC, left: 736.7, top: 452.3, title: ["Convection", "dT/dt", "R2"], titleY: [434, 434, 434], tag: "c)" },
  { data: panelD, left: 104.3, top: 865.6, title: ["Moist", "dq/dt", "R2"], titleY: [847, 844, 847], tag: "d)" },
  { data: panelE, left: 736.7, top: 865.6, title: ["Convection", "dq/dt", "R2"], titleY: [847, 844, 847], tag: "e)" },
];
const FONT = '"Liberation Sans", Arial, sans-serif';

function buildOption() {
  const grid: any[] = [];
  const xAxis: any[] = [];
  const yAxis: any[] = [];
  const series: any[] = [];
  const graphic: any[] = [];

  panels.forEach((pn, i) => {
    grid.push({ left: pn.left, top: pn.top, width: PANEL_W, height: PANEL_H, containLabel: false });
    const xBase = {
      type: "value", gridIndex: i, min: -90, max: 90, interval: 30, z: 10,
      splitLine: { show: false },
      axisLine: { show: true, onZero: false, lineStyle: { color: "#000", width: 2 } },
      axisTick: { show: true, length: 12, lineStyle: { color: "#000", width: 2 } },
      minorTick: { show: true, splitNumber: 3, length: 5, lineStyle: { color: "#000", width: 1 } },
      minorSplitLine: { show: false },
    };
    xAxis.push({
      ...xBase, position: "bottom",
      axisLabel: { show: true, margin: 23, color: "#000", fontFamily: FONT, fontSize: 18, hideOverlap: false, showMinLabel: true, showMaxLabel: true, formatter: (v: number) => latLabels[String(v)] ?? "" },
    });
    xAxis.push({ ...xBase, position: "top", axisLabel: { show: false } });
    const xi = xAxis.length - 2;
    const yi = yAxis.length;
    const yBase = { type: "value", gridIndex: i, min: pMin, max: pMax, inverse: true, z: 10, splitLine: { show: false } };
    yAxis.push({
      ...yBase, position: "left", name: "Pressure (hPa)", nameLocation: "middle", nameGap: 70, nameRotate: 90,
      nameTextStyle: { fontFamily: FONT, fontSize: 23.5, color: "#000" },
      axisLine: { show: true, onZero: false, lineStyle: { color: "#000", width: 2 } },
      axisTick: { show: true, length: 12, customValues: pressureMajor, lineStyle: { color: "#000", width: 2 } },
      axisLabel: { show: true, margin: 24, customValues: pressureMajor, color: "#000", fontFamily: FONT, fontSize: 18 },
    });
    yAxis.push({
      ...yBase, position: "left", axisLine: { show: false, onZero: false },
      axisTick: { show: true, length: 5, customValues: pressureMinor, lineStyle: { color: "#000", width: 1 } },
      axisLabel: { show: false },
    });
    yAxis.push({
      ...yBase, position: "right", axisLine: { show: true, onZero: false, lineStyle: { color: "#000", width: 2 } },
      axisTick: { show: true, length: 12, customValues: pressureMajor, lineStyle: { color: "#000", width: 2 } },
      axisLabel: { show: false },
    });
    yAxis.push({
      ...yBase, position: "right", axisLine: { show: false, onZero: false },
      axisTick: { show: true, length: 5, customValues: pressureMinor, lineStyle: { color: "#000", width: 1 } },
      axisLabel: { show: false },
    });
    const contours = pn.data;
    series.push({
      type: "custom", coordinateSystem: "cartesian2d", xAxisIndex: xi, yAxisIndex: yi, silent: true, clip: true,
      data: contours.map((c, k) => [c[1][0], c[1][1], k]),
      encode: { x: 0, y: 1 },
      renderItem: (_p: any, api: any) => {
        const c = contours[api.value(2)];
        const pts: number[][] = [];
        for (let k = 0; k + 1 < c[1].length; k += 2) pts.push(api.coord([c[1][k], c[1][k + 1]]));
        return {
          type: "polygon", shape: { points: pts },
          style: { fill: levelColors[c[0]], stroke: "#000", lineWidth: 1, lineJoin: "round" },
        };
      },
    });
    const txt = (text: string, x: number, y: number, align: string) => ({
      type: "text", z: 100,
      style: { text, x, y, font: `18px ${FONT}`, fill: "#000", textAlign: align, textVerticalAlign: "middle", verticalAlign: "middle" },
    });
    graphic.push(txt(pn.title[0], pn.left - 1, pn.titleY[0], "left"));
    graphic.push(txt(pn.title[1], pn.left + PANEL_W / 2, pn.titleY[1], "center"));
    graphic.push(txt(pn.title[2], pn.left + PANEL_W + 1.5, pn.titleY[2], "right"));
    graphic.push({
      type: "rect", z: 100, shape: { x: pn.left + 7.7, y: pn.top + 7.5, width: 28.5, height: 32 },
      style: { fill: "#fff", stroke: "#333", lineWidth: 1 },
    });
    graphic.push(txt(pn.tag, pn.left + 22, pn.top + 24, "center"));
  });

  // Colour bar
  const gi = panels.length;
  grid.push({ left: 115, top: 1263.5, width: 1036, height: 30 });
  xAxis.push({
    type: "value", gridIndex: gi, min: 0, max: 13, interval: 1, z: 10,
    splitLine: { show: false }, axisTick: { show: false }, axisLine: { show: false, onZero: false },
    axisLabel: { show: true, margin: 7, color: "#000", fontFamily: FONT, fontSize: 18, hideOverlap: false, formatter: (v: number) => levelLabels[v - 1] ?? "" },
  });
  yAxis.push({ type: "value", gridIndex: gi, min: 0, max: 1, show: false });
  series.push({
    type: "custom", coordinateSystem: "cartesian2d", xAxisIndex: xAxis.length - 1, yAxisIndex: yAxis.length - 1, silent: true,
    data: levelColors.map((_c, k) => [k, 0]),
    encode: { x: 0, y: 1 },
    renderItem: (_p: any, api: any) => {
      const k = api.value(0);
      const a = api.coord([k, 1]);
      const b = api.coord([k + 1, 0]);
      return {
        type: "rect", shape: { x: a[0], y: a[1], width: b[0] - a[0], height: b[1] - a[1] },
        style: { fill: levelColors[k], stroke: "#000", lineWidth: 1 },
      };
    },
  });

  return { animation: false, backgroundColor: "#fff", grid, xAxis, yAxis, series, graphic };
}

export default function App() {
  const ref = useRef<HTMLDivElement>(null);
  useEffect(() => {
    document.body.style.margin = "0";
    const chart = echarts.init(ref.current!, undefined, { renderer: "svg" });
    chart.setOption(buildOption() as any);
    return () => chart.dispose();
  }, []);
  return <div ref={ref} style={{ position: "absolute", left: 0, top: 0, width: 1263, height: 1319 }} />;
}
